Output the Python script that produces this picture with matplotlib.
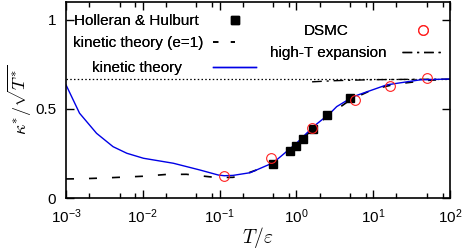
import numpy as np
import matplotlib
matplotlib.use("Agg")
import matplotlib.pyplot as plt
from matplotlib.ticker import LogLocator, FixedLocator, FuncFormatter
from matplotlib.lines import Line2D

plt.rcParams['font.family'] = ['Liberation Sans', 'DejaVu Sans']
plt.rcParams['mathtext.fontset'] = 'cm'

# data ------------------------------------------------------------
# Holleran & Hulburt (experiment)
hh_T = [0.5, 0.83, 1.0, 1.23, 1.65, 2.48, 5.0]
hh_k = [0.19, 0.264, 0.293, 0.331, 0.388, 0.466, 0.56]

# DSMC
dsmc_T = [0.115, 0.467, 1.58, 5.8, 16.6, 50.7]
dsmc_k = [0.122, 0.226, 0.392, 0.55, 0.63, 0.672]

# kinetic theory
kt_T = [1e-3, 1.5e-3, 2.5e-3, 4.1e-3, 6.2e-3, 0.0102, 0.025, 0.0556, 0.096,
        0.115, 0.15, 0.25, 0.5, 1.0, 1.66, 2.75, 3.35, 5.5, 15, 40.7, 100]
kt_k = [0.635, 0.476, 0.363, 0.288, 0.251, 0.223, 0.195, 0.157, 0.129,
        0.125, 0.127, 0.142, 0.198, 0.307, 0.40, 0.476, 0.513, 0.569, 0.635, 0.663, 0.668]

# kinetic theory (e=1)
ke_T = [1e-3, 1.6e-3, 3e-3, 1e-2, 2e-2, 3.7e-2, 0.055, 0.082, 0.1, 0.15, 0.23,
        0.35, 0.5, 1.0, 1.6, 2.5, 5.0, 10, 20, 50, 100]
ke_k = [0.107, 0.108, 0.112, 0.122, 0.132, 0.133, 0.125, 0.117, 0.115, 0.116, 0.139,
        0.167, 0.192, 0.298, 0.383, 0.458, 0.55, 0.61, 0.64, 0.66, 0.667]

# high-T expansion
ht_T = [1.6, 3.0, 5.0, 10, 30, 100]
ht_k = [0.652, 0.658, 0.661, 0.664, 0.666, 0.667]

limite = 0.667   # high-T limit (dotted line)

xtick_vals = [1e-3, 1e-2, 1e-1, 1e0, 1e1, 1e2]
ytick_vals = [0, 0.5, 1]
ytick_labels = ["0", "0.5", "1"]

# grafica ---------------------------------------------------------
W, H = 463, 249
fig = plt.figure(figsize=(W/100, H/100), dpi=100)
ax = fig.add_axes([66/W, 1-198/H, (450-66)/W, (198-2)/H])

ax.set_xscale("log")
ax.set_xlim(1e-3, 1e2)
ax.set_ylim(0, 1.1)

ax.axhline(limite, color="k", lw=0.9, dashes=(1.2, 1.8))
ax.plot(ke_T, ke_k, color="k", lw=1.2, dashes=(4.8, 9))
ax.plot(ht_T, ht_k, color="k", lw=1.0, dashes=(7, 3.5, 1.5, 3.5))
ax.plot(kt_T, kt_k, color="#0000e6", lw=1.0)
ax.plot(hh_T, hh_k, linestyle="", marker="s", ms=6, color="k")
ax.plot(dsmc_T, dsmc_k, linestyle="", marker="o", ms=7, mfc="none",
        mec="#ff2020", mew=0.8)

ax.xaxis.set_major_locator(FixedLocator(xtick_vals))
ax.xaxis.set_minor_locator(LogLocator(base=10, subs=[2, 5, 8]))
ax.xaxis.set_major_formatter(FuncFormatter(
    lambda v, p: r"$\mathdefault{10^{%d}}$" % int(round(np.log10(v)))))
ax.xaxis.set_minor_formatter(FuncFormatter(lambda v, p: ""))
ax.set_yticks(ytick_vals)
ax.set_yticklabels(ytick_labels)

ax.tick_params(which="both", direction="in", top=True, right=True,
               labelsize=11, width=1)
ax.tick_params(which="major", length=6)
ax.tick_params(which="minor", length=3.5)
ax.tick_params(axis="x", which="major", pad=7)
ax.tick_params(axis="y", which="major", pad=7)
for s in ax.spines.values():
    s.set_linewidth(1.2)

ax.set_xlabel(r"$T/\varepsilon$", fontsize=14, labelpad=-1)
ax.set_ylabel(r"$\kappa^{*}/\sqrt{T^{*}}$", fontsize=13, labelpad=1)

# legend samples (keys, gnuplot style: text right-aligned before sample)
k_hh = Line2D([], [], linestyle="", marker="s", ms=6, color="k")
k_ke = Line2D([], [], color="k", lw=1.2, dashes=(3.2, 7.5))
k_kt = Line2D([], [], color="#0000e6", lw=1.0)
k_ds = Line2D([], [], linestyle="", marker="o", ms=7, mfc="none",
              mec="#ff2020", mew=0.8)
k_ht = Line2D([], [], color="k", lw=1.0, dashes=(7, 3.5, 1.5, 3.5))

fs = 11
fpx = fs * 100 / 72.0

def chiave(handle, label, x_end, y, hlen_px, pad_px):
    leg = fig.legend([handle], [label], loc="center right",
                     bbox_to_anchor=(x_end/W, 1-y/H), frameon=False,
                     markerfirst=False, fontsize=fs, borderpad=0,
                     borderaxespad=0, handlelength=hlen_px/fpx,
                     handletextpad=pad_px/fpx, numpoints=1)
    fig.add_artist(leg)

chiave(k_hh, "Holleran & Hulburt", 245, 21, 20, 26)
chiave(k_ke, "kinetic theory (e=1)", 235, 43, 22, 10)
chiave(k_kt, "kinetic theory", 256, 68, 43, 31)
chiave(k_ds, "DSMC", 433, 31, 20, 64)
chiave(k_ht, "high-T expansion", 445, 53, 43, 15)

fig.savefig("out.png", dpi=100)
